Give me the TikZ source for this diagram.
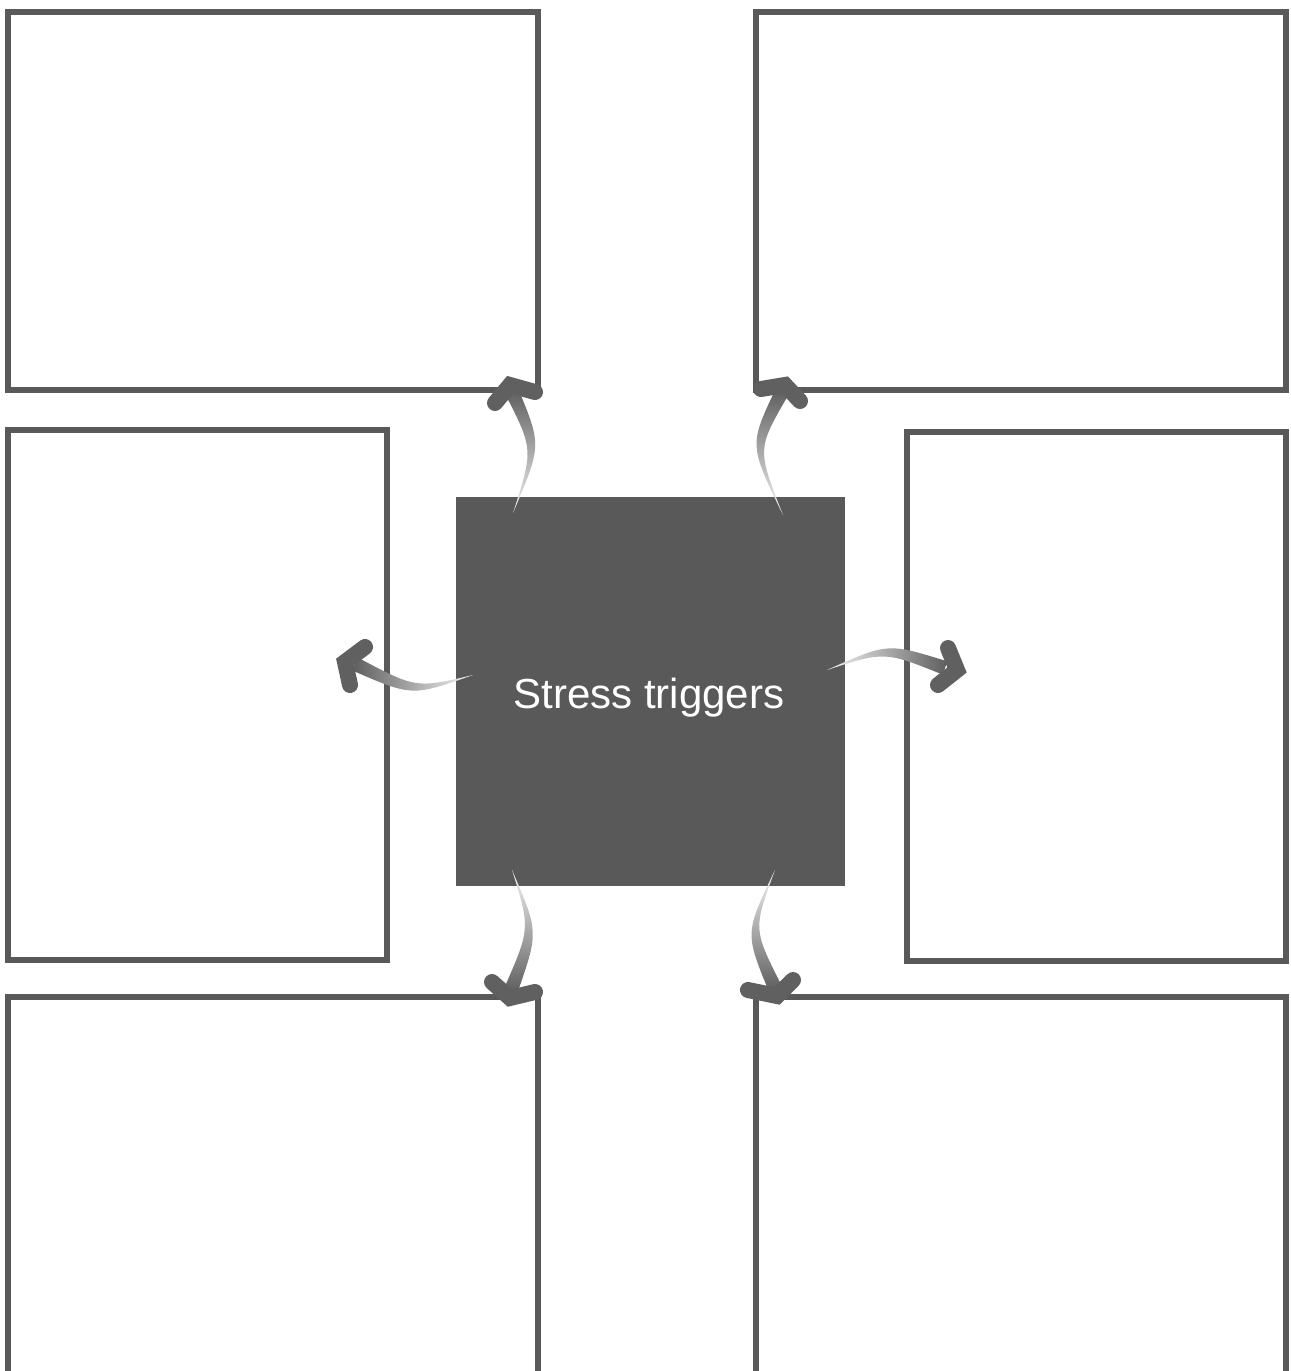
\documentclass[tikz,border=0pt]{standalone}
\usepackage{fontspec}
\setmainfont{Liberation Sans}
\usetikzlibrary{calc}
\definecolor{boxgray}{HTML}{595959}
\definecolor{arrdark}{HTML}{5E5E5E}
\definecolor{arrlight}{HTML}{F4F4F4}
\definecolor{headgray}{HTML}{606060}
\tikzset{
  frame/.style={draw=boxgray, line width=0.12cm, fill=white, inner sep=0pt, outer sep=0pt, rectangle},
  core/.style={fill=boxgray, draw=none, inner sep=0pt, outer sep=0pt, rectangle, minimum width=7.78cm, minimum height=7.78cm},
  headline/.style={draw=headgray, line width=0.32cm, line cap=round, line join=miter},
}
\newcommand\sarrow[7]{%
  \shade[#4] (#1) .. controls ($(#2)!0.09cm!-90:(#3)$) .. ($(#3)!0.14cm!90:(#2)$) -- ($(#3)!0.14cm!-90:(#2)$) .. controls ($(#2)!0.09cm!90:(#3)$) .. (#1) -- cycle;
  \draw[headline] (#5) -- (#6) -- (#7);
}
\begin{document}
\begin{tikzpicture}[x=0.02cm, y=-0.02cm]
\useasboundingbox (0,0) rectangle (1290,1371);
\clip (0,0) rectangle (1290,1371);
\fill[white] (0,0) rectangle (1290,1371);
% boxes
\node[frame, minimum width=10.6cm, minimum height=7.56cm] (tl) at (273,201) {};
\node[frame, minimum width=10.6cm, minimum height=7.56cm] (tr) at (1021,201) {};
\node[frame, minimum width=7.58cm, minimum height=10.6cm] (ml) at (197.5,695) {};
\node[frame, minimum width=7.58cm, minimum height=10.58cm] (mr) at (1096.5,696.5) {};
\node[frame, minimum width=10.6cm, minimum height=8.46cm] (bl) at (273,1208.5) {};
\node[frame, minimum width=10.6cm, minimum height=8.46cm] (br) at (1021,1208.5) {};
% center
\node[core] (c) at (650.5,691.5) {};
\node[text=white, anchor=base, inner sep=0pt, font=\fontsize{23.9}{28}\selectfont] (lbl) at (649,708) {Stress triggers};
% arrow points
\coordinate (t1) at (513,513); \coordinate (c1) at (537.5,447.5); \coordinate (e1) at (512,392);
\coordinate (l1) at (495,403); \coordinate (p1) at (510,385); \coordinate (r1) at (535,392);
\coordinate (t2) at (783,515); \coordinate (c2) at (753,447); \coordinate (e2) at (782,392);
\coordinate (l2) at (761,389); \coordinate (p2) at (785,385); \coordinate (r2) at (800,401);
\coordinate (t3) at (473,675); \coordinate (c3) at (414,692.5); \coordinate (e3) at (355,664);
\coordinate (l3) at (365,647); \coordinate (p3) at (345,662); \coordinate (r3) at (350,685);
\coordinate (t4) at (827,670); \coordinate (c4) at (886,647); \coordinate (e4) at (945,668);
\coordinate (l4) at (948,648); \coordinate (p4) at (957,670); \coordinate (r4) at (938,685);
\coordinate (t5) at (512,870); \coordinate (c5) at (534.5,930); \coordinate (e5) at (511,990);
\coordinate (l5) at (492,982); \coordinate (p5) at (510,998); \coordinate (r5) at (535,992);
\coordinate (t6) at (775,870); \coordinate (c6) at (749,931); \coordinate (e6) at (775,988);
\coordinate (l6) at (748,990); \coordinate (p6) at (777,996); \coordinate (r6) at (793,980);
% arrows
\sarrow{t1}{c1}{e1}{top color=arrdark, bottom color=arrlight}{l1}{p1}{r1}
\sarrow{t2}{c2}{e2}{top color=arrdark, bottom color=arrlight}{l2}{p2}{r2}
\sarrow{t3}{c3}{e3}{left color=arrdark, right color=arrlight}{l3}{p3}{r3}
\sarrow{t4}{c4}{e4}{left color=arrlight, right color=arrdark}{l4}{p4}{r4}
\sarrow{t5}{c5}{e5}{top color=arrlight, bottom color=arrdark}{l5}{p5}{r5}
\sarrow{t6}{c6}{e6}{top color=arrlight, bottom color=arrdark}{l6}{p6}{r6}
\end{tikzpicture}
\end{document}
